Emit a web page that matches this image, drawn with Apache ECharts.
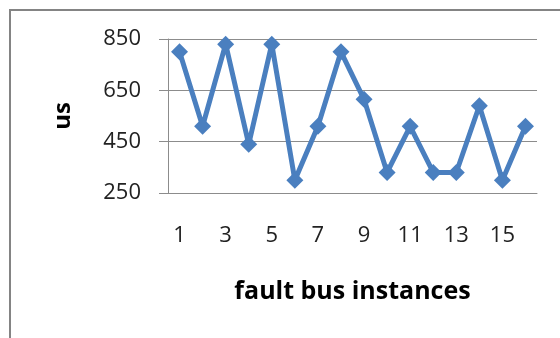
<!DOCTYPE html>
<html><head><meta charset="utf-8">
<script src="https://cdn.jsdelivr.net/npm/echarts@6/dist/echarts.min.js"></script>
<style>html,body{margin:0;padding:0;background:#fff}#c{width:560px;height:338px}</style>
</head><body><div id="c"></div>
<script>
var categories = ['1','2','3','4','5','6','7','8','9','10','11','12','13','14','15','16'];
var values = [800, 510, 830, 440, 830, 300, 510, 800, 615, 330, 510, 330, 330, 590, 300, 510];
var yTicks = [250, 450, 650, 850];
var xTitle = 'fault bus instances';
var yTitle = 'us';

var chart = echarts.init(document.getElementById('c'));
var font = '"Open Sans", sans-serif';
chart.setOption({
  animation: false,
  graphic: [{
    type: 'rect', shape: {x: 10, y: 10, width: 600, height: 400},
    style: {fill: 'none', stroke: '#848484', lineWidth: 2}, z: -1
  }],
  grid: {left: 168, right: 23, top: 39, bottom: 145},
  xAxis: {
    type: 'category', data: categories, boundaryGap: true,
    axisLine: {lineStyle: {color: '#8c8c8c', width: 1}},
    axisTick: {show: false},
    axisLabel: {interval: 1, margin: 32, fontFamily: font, fontSize: 22, color: '#222'},
    name: xTitle, nameLocation: 'middle', nameGap: 86,
    nameTextStyle: {fontFamily: font, fontSize: 25, fontWeight: 'bold', color: '#000'}
  },
  yAxis: {
    type: 'value', min: yTicks[0], max: yTicks[yTicks.length - 1], interval: 200,
    axisLine: {show: true, lineStyle: {color: '#8c8c8c', width: 1}},
    axisTick: {show: true, length: 9, lineStyle: {color: '#8c8c8c'}},
    splitLine: {lineStyle: {color: '#8c8c8c', width: 1}},
    axisLabel: {margin: 27, fontFamily: font, fontSize: 22, color: '#222'},
    name: yTitle, nameLocation: 'middle', nameGap: 93, nameRotate: 90,
    nameTextStyle: {fontFamily: font, fontSize: 24, fontWeight: 'bold', color: '#000'}
  },
  series: [{
    type: 'line', data: values,
    symbol: 'diamond', symbolSize: 17, showAllSymbol: true,
    lineStyle: {color: '#4a7fbf', width: 5},
    itemStyle: {color: '#4a7fbf'}
  }]
});
</script></body></html>
